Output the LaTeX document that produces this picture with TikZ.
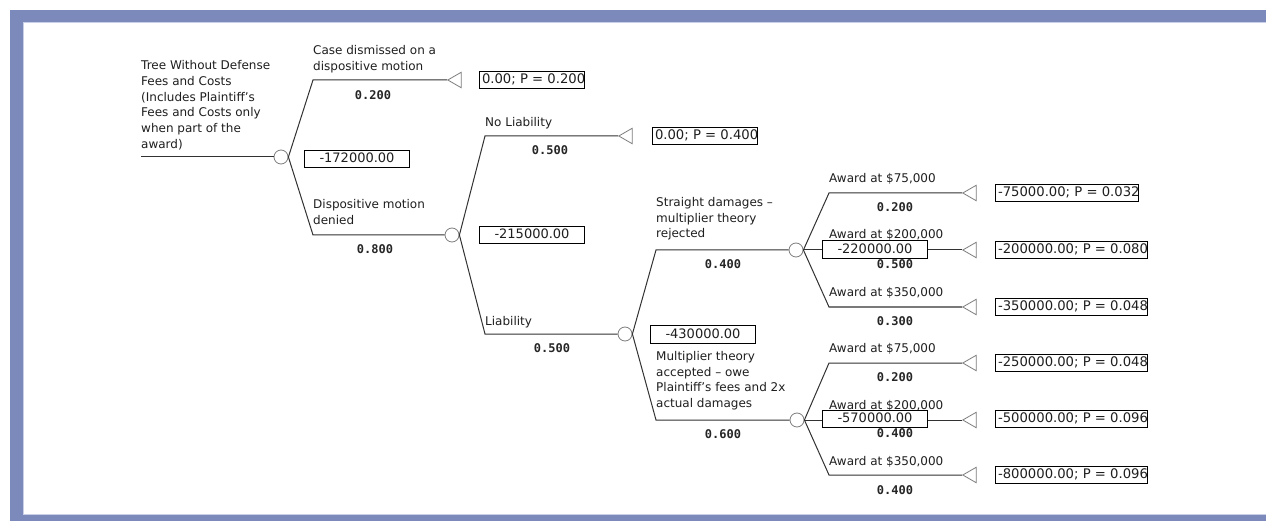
\documentclass[tikz,border=0pt]{standalone}
\usepackage{fontspec}
\setmainfont{DejaVu Sans}
\newfontfamily\probfont{DejaVu Sans Mono}
\usetikzlibrary{shapes.geometric}
\definecolor{framecol}{RGB}{123,137,187}
\definecolor{framelite}{RGB}{200,207,230}
\definecolor{linecol}{RGB}{50,50,50}
\definecolor{nodecol}{RGB}{125,125,125}
\newcommand\clipchar[1]{\makebox[0.4em][l]{#1}}
\begin{document}
\begin{tikzpicture}[x=1pt,y=-1pt,
  lbl/.style={anchor=north west,inner sep=0pt,align=left,font=\fontsize{12}{15.7}\selectfont,text=black!88,execute at begin node=\strut},
  prob/.style={font=\probfont\bfseries\fontsize{12}{14}\selectfont,inner sep=0pt,text=black!85},
  chance/.style={circle,draw=nodecol,fill=white,line width=0.8pt,minimum size=14pt,inner sep=0pt},
  term/.style={regular polygon,regular polygon sides=3,shape border rotate=90,draw=nodecol,fill=white,line width=0.8pt,minimum size=18pt,inner sep=0pt,anchor=west},
  payoff/.style={draw=black,line width=1pt,anchor=west,inner xsep=2.5pt,inner ysep=2.5pt,text height=9.8pt,text depth=2.5pt,font=\fontsize{13.2}{15}\selectfont,text=black!88},
  value/.style={draw=black,line width=1pt,fill=white,minimum width=105pt,inner ysep=2.5pt,text height=9.8pt,text depth=2.5pt,font=\fontsize{13}{15}\selectfont,text=black!88},
  branch/.style={draw=linecol,line width=1pt}
]
\useasboundingbox (0,0) rectangle (1266,521);
\fill[white] (0,0) rectangle (1266,521);
% frame
\fill[framecol] (10,10) rectangle (1266,22.5);
\fill[framecol] (10,10) rectangle (23,521);
\fill[framecol] (10,515) rectangle (1266,521);
\draw[framelite,line width=0.8pt] (23.4,514.6) -- (23.4,22.9) -- (1266,22.9);
\draw[framelite,line width=0.8pt] (23.4,514.6) -- (1266,514.6);

% chance nodes
\node[chance] (c0) at (281,157) {};
\node[chance] (c1) at (452,235) {};
\node[chance] (c2) at (625,334) {};
\node[chance] (c3) at (796,250) {};
\node[chance] (c4) at (797,420) {};
% corners
\coordinate (r0) at (141,157);
\coordinate (k1) at (313,80);  \coordinate (k2) at (313,235);
\coordinate (k3) at (485,136); \coordinate (k4) at (485,334);
\coordinate (k5) at (656,250); \coordinate (k6) at (656,420);
\coordinate (k7) at (829,193); \coordinate (k8) at (829,307);
\coordinate (k9) at (829,363); \coordinate (k10) at (829,475);
% terminal nodes
\node[term] (t1) at (447,80) {};
\node[term] (t2) at (618,136) {};
\node[term] (t3) at (962,193) {};
\node[term] (t4) at (962,250) {};
\node[term] (t5) at (962,307) {};
\node[term] (t6) at (962,363) {};
\node[term] (t7) at (962,420) {};
\node[term] (t8) at (962,475) {};

% branches
\draw[branch] (r0) -- (c0);
\draw[branch] (c0.east) -- (k1) -- (t1);
\draw[branch] (c0.east) -- (k2) -- (c1);
\draw[branch] (c1.east) -- (k3) -- (t2);
\draw[branch] (c1.east) -- (k4) -- (c2);
\draw[branch] (c2.east) -- (k5) -- (c3);
\draw[branch] (c2.east) -- (k6) -- (c4);
\draw[branch] (c3.east) -- (k7) -- (t3);
\draw[branch] (c3) -- (t4);
\draw[branch] (c3.east) -- (k8) -- (t5);
\draw[branch] (c4.east) -- (k9) -- (t6);
\draw[branch] (c4) -- (t7);
\draw[branch] (c4.east) -- (k10) -- (t8);

% labels
\node[lbl] (root) at (141,60.5) {Tree Without Defense\\Fees and Costs\\(Includes Plaintiff’s\\Fees and Costs only\\when part of the\\award)};
\node[lbl] (l1) at (313,45) {Case dismissed on a\\dispositive motion};
\node[lbl] (l2) at (313,199) {Dispositive motion\\denied};
\node[lbl] (l3) at (485,115) {No Liability};
\node[lbl] (l4) at (485,314) {Liability};
\node[lbl] (l5) at (656,197) {Straight damages –\\multiplier theory\\rejected};
\node[lbl] (l6) at (656,351) {Multiplier theory\\accepted – owe\\Plaintiff’s fees and 2x\\actual damages};
\node[lbl] (a1) at (829,171) {Award at \$75,000};
\node[lbl] (a2) at (829,227) {Award at \$200,000};
\node[lbl] (a3) at (829,285) {Award at \$350,000};
\node[lbl] (a4) at (829,341) {Award at \$75,000};
\node[lbl] (a5) at (829,398) {Award at \$200,000};
\node[lbl] (a6) at (829,454) {Award at \$350,000};

% probabilities
\node[prob] (q1) at (373,95) {0.200};
\node[prob] (q2) at (375,249) {0.800};
\node[prob] (q3) at (550,150) {0.500};
\node[prob] (q4) at (552,348) {0.500};
\node[prob] (q5) at (723,264) {0.400};
\node[prob] (q6) at (723,434) {0.600};
\node[prob] (q7) at (895,207) {0.200};
\node[prob] (q8) at (895,264) {0.500};
\node[prob] (q9) at (895,321) {0.300};
\node[prob] (q10) at (895,377) {0.200};
\node[prob] (q11) at (895,433) {0.400};
\node[prob] (q12) at (895,490) {0.400};

% expected values
\node[value] (v0) at (357,159) {-172000.00};
\node[value] (v1) at (532,235) {-215000.00};
\node[value] (v2) at (703,334.5) {-430000.00};
\node[value] (v3) at (875,249.5) {-220000.00};
\node[value] (v4) at (875,419) {-570000.00};

% payoffs
\node[payoff] (p1) at (479,80) {0.00; P = 0.20\clipchar{0}};
\node[payoff] (p2) at (652,136) {0.00; P = 0.40\clipchar{0}};
\node[payoff] (p3) at (995,193) {-75000.00; P = 0.03\clipchar{2}};
\node[payoff] (p4) at (995,250) {-200000.00; P = 0.08\clipchar{0}};
\node[payoff] (p5) at (995,307) {-350000.00; P = 0.04\clipchar{8}};
\node[payoff] (p6) at (995,363) {-250000.00; P = 0.04\clipchar{8}};
\node[payoff] (p7) at (995,419) {-500000.00; P = 0.09\clipchar{6}};
\node[payoff] (p8) at (995,475) {-800000.00; P = 0.09\clipchar{6}};
\end{tikzpicture}
\end{document}
